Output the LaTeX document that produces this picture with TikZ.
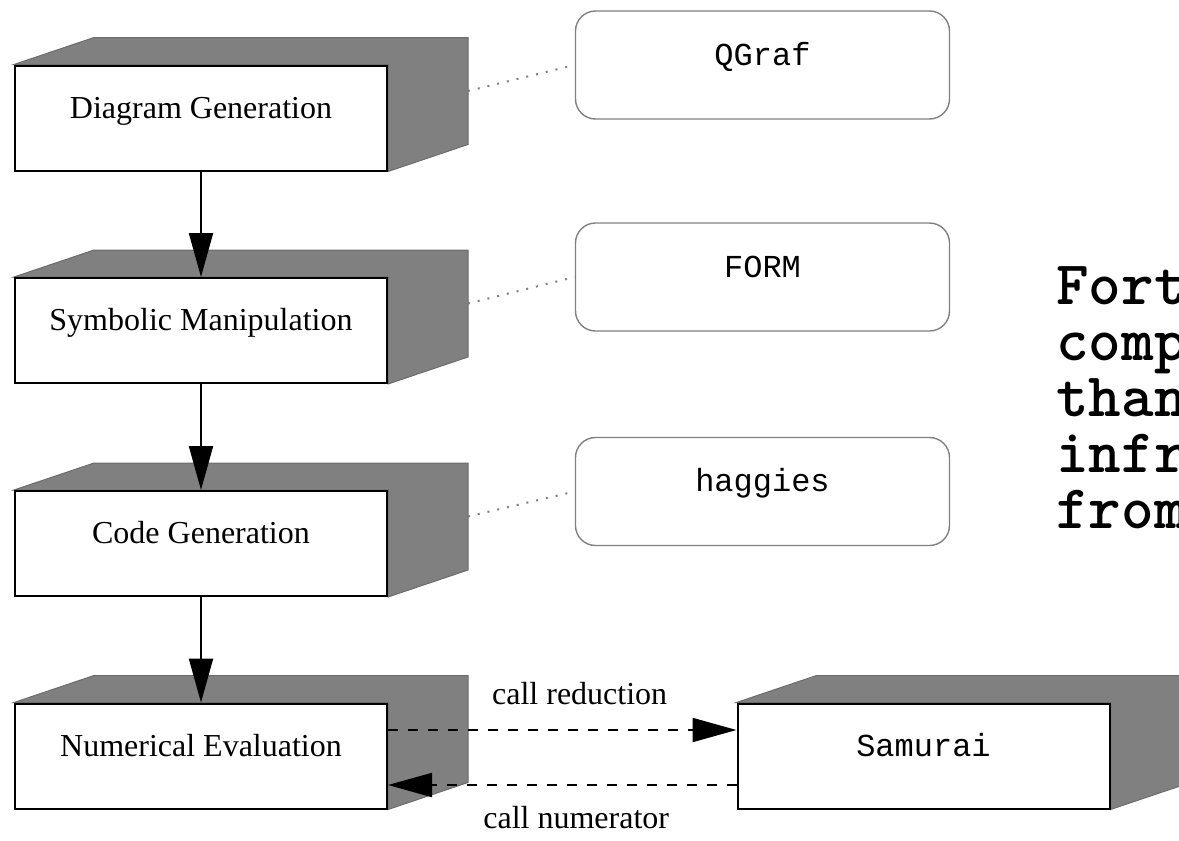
\documentclass[tikz,border=0pt]{standalone}
\usepackage{fontspec}
\setmainfont{Liberation Serif}
\newfontfamily\codefont{Liberation Mono}
\usetikzlibrary{arrows.meta,backgrounds}

\begin{document}
\begin{tikzpicture}[x=0.5pt,y=-0.5pt,font=\fontsize{16}{19}\selectfont,
  stage/.style={draw,line width=1pt,fill=white,minimum width=186pt,minimum height=52.5pt,text height=2ex,text depth=2ex},
  tool/.style={draw=gray,line width=0.7pt,rounded corners=10pt,minimum width=187pt,minimum height=54pt,text height=2ex,text depth=2ex,font=\codefont\fontsize{16}{19}\selectfont},
  face/.style={fill=gray,draw=gray!85!black,line width=0.5pt},
  flow/.style={-{Triangle[length=22pt,width=12pt]},line width=1pt},
  link/.style={gray,line width=1pt,dash pattern=on 1pt off 4pt}]

\useasboundingbox (0,0) rectangle (1179,841);
\clip (0,0) rectangle (1179,841);

\node[stage] (DG) at (201,118) {Diagram Generation};
\node[stage] (SM) at (201,330.5) {Symbolic Manipulation};
\node[stage] (CG) at (201,543.5) {Code Generation};
\node[stage] (NE) at (201,756) {Numerical Evaluation};
\node[stage,font=\codefont\fontsize{16}{19}\selectfont] (S) at (923.5,756) {Samurai};

\node[tool] (T1) at (762.5,65) {QGraf};
\node[tool] (T2) at (762.5,277) {FORM};
\node[tool] (T3) at (762.5,491.5) {haggies};

\node[align=left,anchor=north west,inner sep=0pt,font=\ttfamily\bfseries\fontsize{31}{28}\selectfont] (F) at (1056,266) {Fort\\comp\\than\\infr\\from};

% shaded sides of the blocks
\begin{scope}[on background layer]
\clip (0,0) rectangle (1179,841);
\foreach \n in {DG,SM,CG,NE,S}
  \filldraw[face] (\n.north west) -- ++(80,-27) -- ([shift={(80,-27)}]\n.north east) -- ([shift={(80,-27)}]\n.south east) -- (\n.south east) -- (\n.north east) -- cycle;
\end{scope}

\foreach \n in {DG,SM,CG}
  \coordinate (\n-b) at ([shift={(80,-27)}]\n.east);

\draw[link] (DG-b) -- (T1.west);
\draw[link] (SM-b) -- (T2.west);
\draw[link] (CG-b) -- (T3.west);

\draw[flow] (DG) -- (SM);
\draw[flow] (SM) -- (CG);
\draw[flow] (CG) -- (NE);

\draw[flow,dash pattern=on 5pt off 5pt] ([yshift=13pt]NE.east) -- node[above=9pt,pos=0.55] {call reduction} ([yshift=13pt]S.west);
\draw[flow,dash pattern=on 5pt off 5pt] ([yshift=-14.5pt]S.west) -- node[below=7pt,pos=0.46] {call numerator} ([yshift=-14.5pt]NE.east);

\end{tikzpicture}
\end{document}
